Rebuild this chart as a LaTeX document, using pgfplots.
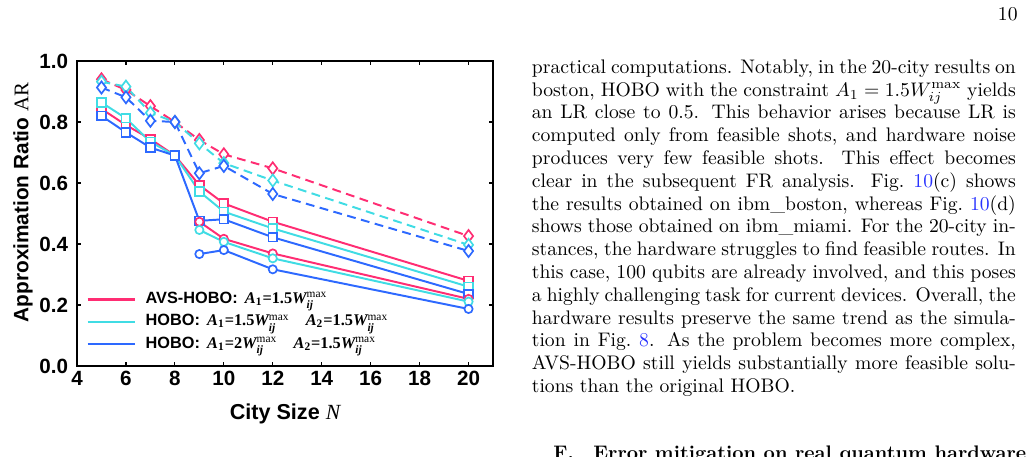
\documentclass[border=0pt]{standalone}
\usepackage{fontspec}
\usepackage{amsmath}
\usepackage{pgfplots}
\pgfplotsset{compat=1.18}
\newfontfamily\arial{Liberation Sans}
\newfontfamily\tms{Liberation Serif}
\definecolor{cpink}{RGB}{255,45,115}
\definecolor{ccyan}{RGB}{64,220,228}
\definecolor{cblue}{RGB}{45,105,255}
\definecolor{linkblue}{RGB}{40,50,255}
\newdimen\pu \pu=0.5093pt
\newcommand{\Wm}{{\tms\bfseries\itshape W}\ensuremath{^{\text{\tms\mdseries\upshape max}}_{\text{\tms\bfseries\itshape ij}}}}
\newcommand{\Ai}[1]{{\tms\bfseries\itshape A}\textsubscript{\tms\bfseries #1}}
\newcommand{\eqq}{{\tms\bfseries =}}
\newcommand{\num}[1]{{\tms\bfseries #1}}
\newcommand{\TL}[2]{\node[anchor=base west, inner sep=0pt] at (531.5,#1) {\makebox[484\pu][s]{#2}};}
\newcommand{\lk}[1]{\textcolor{linkblue}{#1}}
\begin{document}
\begin{tikzpicture}
\useasboundingbox (0,0) rectangle (523.05pt,-232.75pt);
\begin{axis}[
  at={(39.22pt,-186.40pt)}, anchor=south west,
  scale only axis, width=211.87pt, height=155.34pt,
  xmin=4, xmax=21, ymin=0, ymax=1,
  xtick={4,6,8,10,12,14,16,18,20},
  ytick={0,0.2,0.4,0.6,0.8,1.0},
  yticklabel style={/pgf/number format/fixed, /pgf/number format/fixed zerofill, /pgf/number format/precision=1, xshift=-1pt},
  /pgf/number format/assume math mode=true,
  tick label style={font=\arial\bfseries\fontsize{10.5}{12}\selectfont},
  xticklabel style={yshift=1pt},
  tick align=inside, tick style={black, line width=0.6pt}, major tick length=2.1pt,
  axis line style={black, line width=0.75pt},
  xlabel={City Size {\tms\mdseries\itshape N}},
  ylabel={Approximation Ratio {\tms\mdseries AR}},
  every axis y label/.style={at={(axis description cs:-0.13,0.536)}, rotate=90, anchor=center,
    font=\arial\bfseries\fontsize{10.6}{12}\selectfont},
  every axis x label/.style={at={(axis description cs:0.5,-0.177)}, anchor=base,
    font=\arial\bfseries\fontsize{11}{13}\selectfont},
  legend style={at={(axis description cs:0.0216,0.145)}, anchor=west, draw=none, fill=none,
    inner sep=0pt, column sep=4.5pt, row sep=0pt,
    font=\arial\bfseries\fontsize{8.3}{9.5}\selectfont,
    nodes={inner sep=0.5pt, text height=7.2pt, text depth=3.2pt}},
  legend cell align=left,
  legend image code/.code={\draw[#1] (0pt,0pt)--(24pt,0pt);},
]
\addlegendimage{cpink, line width=1.2pt}
\addlegendentry{AVS-HOBO:\ \,\Ai{1}\eqq\num{1.5}\Wm}
\addlegendimage{ccyan, line width=1.2pt}
\addlegendentry{HOBO:\ \,\Ai{1}\eqq\num{1.5}\Wm\quad\Ai{2}\eqq\num{1.5}\Wm}
\addlegendimage{cblue, line width=1.2pt}
\addlegendentry{HOBO:\ \,\Ai{1}\eqq\num{2}\Wm\quad\Ai{2}\eqq\num{1.5}\Wm}

% solid squares
\addplot[cpink, line width=1pt, mark=square*, mark size=2.2pt, mark options={solid, fill=white, line width=0.85pt}, forget plot]
 coordinates {(5,0.843)(6,0.790)(7,0.744)(8,0.690)(9,0.593)(10,0.533)(12,0.473)(20,0.279)};
\addplot[ccyan, line width=1pt, mark=square*, mark size=2.2pt, mark options={solid, fill=white, line width=0.85pt}, forget plot]
 coordinates {(5,0.864)(6,0.812)(7,0.735)(8,0.690)(9,0.572)(10,0.506)(12,0.451)(20,0.260)};
\addplot[cblue, line width=1pt, mark=square*, mark size=2.2pt, mark options={solid, fill=white, line width=0.85pt}, forget plot]
 coordinates {(5,0.820)(6,0.766)(7,0.716)(8,0.690)(9,0.476)(10,0.481)(12,0.422)(20,0.236)};
% circles
\addplot[cpink, line width=1pt, mark=*, mark size=2.1pt, mark options={solid, fill=white, line width=0.85pt}, forget plot]
 coordinates {(9,0.473)(10,0.417)(12,0.369)(20,0.220)};
\addplot[ccyan, line width=1pt, mark=*, mark size=2.1pt, mark options={solid, fill=white, line width=0.85pt}, forget plot]
 coordinates {(9,0.446)(10,0.407)(12,0.353)(20,0.211)};
\addplot[cblue, line width=1pt, mark=*, mark size=2.1pt, mark options={solid, fill=white, line width=0.85pt}, forget plot]
 coordinates {(9,0.367)(10,0.380)(12,0.317)(20,0.187)};
% dashed diamonds
\addplot[cpink, line width=1pt, dash pattern=on 4.5pt off 2.8pt, mark=diamond*, mark size=3.1pt, mark options={solid, fill=white, line width=0.85pt}, forget plot]
 coordinates {(5,0.940)(6,0.905)(7,0.852)(8,0.800)(9,0.741)(10,0.694)(12,0.648)(20,0.426)};
\addplot[ccyan, line width=1pt, dash pattern=on 4.5pt off 2.8pt, mark=diamond*, mark size=3.1pt, mark options={solid, fill=white, line width=0.85pt}, forget plot]
 coordinates {(5,0.932)(6,0.916)(7,0.830)(8,0.800)(9,0.730)(10,0.665)(12,0.608)(20,0.397)};
\addplot[cblue, line width=1pt, dash pattern=on 4.5pt off 2.8pt, mark=diamond*, mark size=3.1pt, mark options={solid, fill=white, line width=0.85pt}, forget plot]
 coordinates {(5,0.913)(6,0.881)(7,0.804)(8,0.800)(9,0.632)(10,0.656)(12,0.564)(20,0.377)};
\end{axis}
\begin{scope}[x=0.5093pt, y=-0.5093pt]
\node[anchor=base east, inner sep=0pt] at (1018,20.5) {10};
\TL{73.3}{practical computations. Notably, in the 20-city results on}
\TL{96.1}{boston, HOBO with the constraint $A_1 = 1.5W_{ij}^{\max}$ yields}
\TL{118.9}{an LR close to 0.5. This behavior arises because LR is}
\TL{141.7}{computed only from feasible shots, and hardware noise}
\TL{164.5}{produces very few feasible shots. This effect becomes}
\TL{187.3}{clear in the subsequent FR analysis. Fig.~\lk{10}(c) shows}
\TL{210.1}{the results obtained on ibm\_boston, whereas Fig.~\lk{10}(d)}
\TL{232.9}{shows those obtained on ibm\_miami. For the 20-city in-}
\TL{255.7}{stances, the hardware struggles to find feasible routes. In}
\TL{278.5}{this case, 100 qubits are already involved, and this poses}
\TL{301.3}{a highly challenging task for current devices. Overall, the}
\TL{324.1}{hardware results preserve the same trend as the simula-}
\TL{346.9}{tion in Fig.~\lk{8}. As the problem becomes more complex,}
\TL{369.7}{AVS-HOBO still yields substantially more feasible solu-}
\node[anchor=base west, inner sep=0pt] at (531.5,392.5) {tions than the original HOBO.};
\node[anchor=base west, inner sep=0pt] at (553,460) {\bfseries F.};
\node[anchor=base west, inner sep=0pt] at (593,460) {\bfseries Error mitigation on real quantum hardware};
\end{scope}
\end{tikzpicture}
\end{document}
